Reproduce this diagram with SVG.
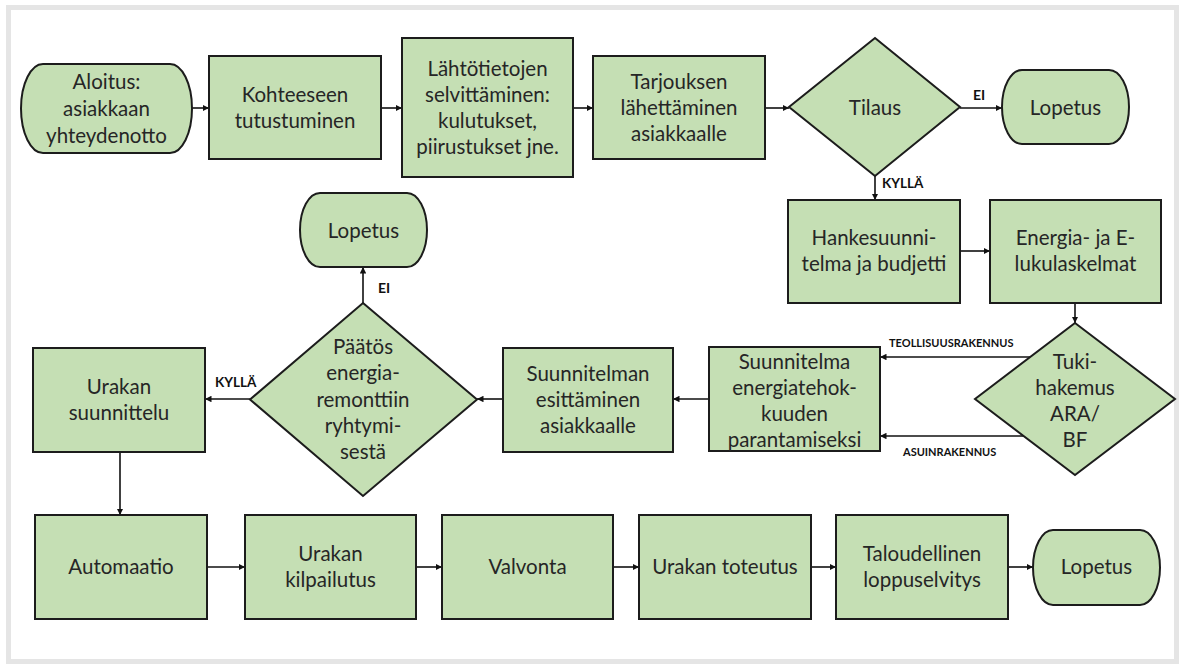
<svg xmlns="http://www.w3.org/2000/svg" width="1184" height="664" viewBox="0 0 1184 664">
  <defs>
    <marker id="arrow" viewBox="0 0 10 10" refX="10" refY="5" markerWidth="6.5" markerHeight="6.5" markerUnits="userSpaceOnUse" orient="auto">
      <path d="M0,0 L10,5 L0,10 z" fill="#111"/>
    </marker>
    <style>
      .box { fill: #c5dfb4; stroke: #1c1c1c; stroke-width: 2; }
      .t { font-family: Lato, "Liberation Sans", sans-serif; font-size: 20.5px; fill: #262626; text-anchor: middle; }
      .lbl { font-family: Lato, "Liberation Sans", sans-serif; font-weight: bold; fill: #111; }
      .edge { fill: none; stroke: #111; stroke-width: 1.6; marker-end: url(#arrow); }
    </style>
  </defs>

  <!-- page frame -->
  <rect x="0" y="0" width="1184" height="664" fill="#ffffff"/>
  <rect x="8.5" y="7.5" width="1168" height="654" fill="#ffffff" stroke="#e5e5e5" stroke-width="5"/>

  <!-- connectors -->
  <g id="connectors">
    <line class="edge" x1="192" y1="108" x2="209" y2="108"/>
    <line class="edge" x1="381" y1="108" x2="402" y2="108"/>
    <line class="edge" x1="573" y1="108" x2="593" y2="108"/>
    <line class="edge" x1="765" y1="108" x2="789" y2="108"/>
    <line class="edge" x1="960" y1="108" x2="1002" y2="108"/>
    <line class="edge" x1="875" y1="176" x2="875" y2="200"/>
    <line class="edge" x1="960" y1="251" x2="990" y2="251"/>
    <line class="edge" x1="1075" y1="303" x2="1075" y2="323"/>
    <line class="edge" x1="1030" y1="357" x2="880" y2="357"/>
    <line class="edge" x1="1024" y1="436" x2="880" y2="436"/>
    <line class="edge" x1="709" y1="399" x2="673" y2="399"/>
    <line class="edge" x1="503" y1="399" x2="477" y2="399"/>
    <line class="edge" x1="250" y1="399" x2="205" y2="399"/>
    <line class="edge" x1="363" y1="303" x2="363" y2="267"/>
    <line class="edge" x1="120" y1="452" x2="120" y2="515"/>
    <line class="edge" x1="207" y1="567" x2="245" y2="567"/>
    <line class="edge" x1="416" y1="567" x2="442" y2="567"/>
    <line class="edge" x1="613" y1="567" x2="639" y2="567"/>
    <line class="edge" x1="811" y1="567" x2="836" y2="567"/>
    <line class="edge" x1="1008" y1="567" x2="1033" y2="567"/>

    <text class="lbl" x="973" y="100" font-size="14">EI</text>
    <text class="lbl" x="882" y="188" font-size="13.5">KYLLÄ</text>
    <text class="lbl" x="889" y="347" font-size="11">TEOLLISUUSRAKENNUS</text>
    <text class="lbl" x="903" y="456" font-size="11">ASUINRAKENNUS</text>
    <text class="lbl" x="378" y="293" font-size="14">EI</text>
    <text class="lbl" x="215" y="387" font-size="13.5">KYLLÄ</text>
  </g>

  <!-- row 1 -->
  <g id="start">
    <rect class="box" x="21" y="64" width="171" height="89" rx="22" ry="44.5"/>
    <text class="t" x="106.5" y="82" dy="0.35em">Aloitus:</text>
    <text class="t" x="106.5" y="109" dy="0.35em">asiakkaan</text>
    <text class="t" x="106.5" y="136" dy="0.35em">yhteydenotto</text>
  </g>
  <g id="kohteeseen">
    <rect class="box" x="209" y="56" width="172" height="103"/>
    <text class="t" x="295" y="95" dy="0.35em">Kohteeseen</text>
    <text class="t" x="295" y="121" dy="0.35em">tutustuminen</text>
  </g>
  <g id="lahtotiedot">
    <rect class="box" x="402" y="38" width="171" height="139"/>
    <text class="t" x="487.5" y="69" dy="0.35em">Lähtötietojen</text>
    <text class="t" x="487.5" y="95" dy="0.35em">selvittäminen:</text>
    <text class="t" x="487.5" y="121" dy="0.35em">kulutukset,</text>
    <text class="t" x="487.5" y="147" dy="0.35em">piirustukset jne.</text>
  </g>
  <g id="tarjous">
    <rect class="box" x="593" y="56" width="172" height="103"/>
    <text class="t" x="679" y="82" dy="0.35em">Tarjouksen</text>
    <text class="t" x="679" y="108" dy="0.35em">lähettäminen</text>
    <text class="t" x="679" y="134" dy="0.35em">asiakkaalle</text>
  </g>
  <g id="tilaus">
    <polygon class="box" points="875,38 960,107 875,176 789,107"/>
    <text class="t" x="875" y="108" dy="0.35em">Tilaus</text>
  </g>
  <g id="end-1">
    <rect class="box" x="1002" y="70" width="127" height="74" rx="20" ry="37"/>
    <text class="t" x="1065.5" y="108" dy="0.35em">Lopetus</text>
  </g>

  <!-- row 2 -->
  <g id="hankesuunnitelma">
    <rect class="box" x="788" y="200" width="172" height="103"/>
    <text class="t" x="874" y="238" dy="0.35em">Hankesuunni-</text>
    <text class="t" x="874" y="264" dy="0.35em">telma ja budjetti</text>
  </g>
  <g id="energialaskelmat">
    <rect class="box" x="990" y="200" width="171" height="103"/>
    <text class="t" x="1075.5" y="238" dy="0.35em">Energia- ja E-</text>
    <text class="t" x="1075.5" y="264" dy="0.35em">lukulaskelmat</text>
  </g>
  <g id="tukihakemus">
    <polygon class="box" points="1075,323 1175,399 1075,475 975,399"/>
    <text class="t" x="1075" y="362" dy="0.35em">Tuki-</text>
    <text class="t" x="1075" y="388" dy="0.35em">hakemus</text>
    <text class="t" x="1075" y="414" dy="0.35em">ARA/</text>
    <text class="t" x="1075" y="440" dy="0.35em">BF</text>
  </g>
  <g id="suunnitelma">
    <rect class="box" x="709" y="347" width="171" height="104"/>
    <text class="t" x="794.5" y="362" dy="0.35em">Suunnitelma</text>
    <text class="t" x="794.5" y="388" dy="0.35em">energiatehok-</text>
    <text class="t" x="794.5" y="414" dy="0.35em">kuuden</text>
    <text class="t" x="794.5" y="440" dy="0.35em">parantamiseksi</text>
  </g>
  <g id="esittaminen">
    <rect class="box" x="503" y="348" width="170" height="104"/>
    <text class="t" x="588" y="374" dy="0.35em">Suunnitelman</text>
    <text class="t" x="588" y="400" dy="0.35em">esittäminen</text>
    <text class="t" x="588" y="426" dy="0.35em">asiakkaalle</text>
  </g>
  <g id="paatos">
    <polygon class="box" points="363,303 477,399.5 363,496 250,399.5"/>
    <text class="t" x="363" y="347" dy="0.35em">Päätös</text>
    <text class="t" x="363" y="373" dy="0.35em">energia-</text>
    <text class="t" x="363" y="400" dy="0.35em">remonttiin</text>
    <text class="t" x="363" y="426" dy="0.35em">ryhtymi-</text>
    <text class="t" x="363" y="452" dy="0.35em">sestä</text>
  </g>
  <g id="end-2">
    <rect class="box" x="300" y="193" width="127" height="74" rx="20" ry="37"/>
    <text class="t" x="363.5" y="231" dy="0.35em">Lopetus</text>
  </g>
  <g id="urakan-suunnittelu">
    <rect class="box" x="33" y="348" width="172" height="104"/>
    <text class="t" x="119" y="387" dy="0.35em">Urakan</text>
    <text class="t" x="119" y="413" dy="0.35em">suunnittelu</text>
  </g>

  <!-- row 3 -->
  <g id="automaatio">
    <rect class="box" x="35" y="515" width="172" height="104"/>
    <text class="t" x="121" y="567" dy="0.35em">Automaatio</text>
  </g>
  <g id="kilpailutus">
    <rect class="box" x="245" y="515" width="171" height="104"/>
    <text class="t" x="330.5" y="554" dy="0.35em">Urakan</text>
    <text class="t" x="330.5" y="580" dy="0.35em">kilpailutus</text>
  </g>
  <g id="valvonta">
    <rect class="box" x="442" y="515" width="171" height="104"/>
    <text class="t" x="527.5" y="567" dy="0.35em">Valvonta</text>
  </g>
  <g id="toteutus">
    <rect class="box" x="639" y="515" width="172" height="104"/>
    <text class="t" x="725" y="567" dy="0.35em">Urakan toteutus</text>
  </g>
  <g id="loppuselvitys">
    <rect class="box" x="836" y="515" width="172" height="104"/>
    <text class="t" x="922" y="554" dy="0.35em">Taloudellinen</text>
    <text class="t" x="922" y="580" dy="0.35em">loppuselvitys</text>
  </g>
  <g id="end-3">
    <rect class="box" x="1033" y="530" width="127" height="75" rx="20" ry="37.5"/>
    <text class="t" x="1096.5" y="567" dy="0.35em">Lopetus</text>
  </g>
</svg>
